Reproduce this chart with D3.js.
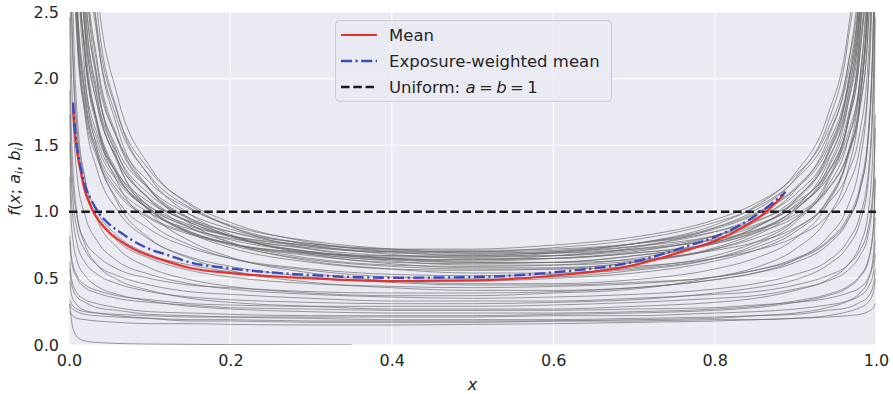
<!DOCTYPE html>
<html>
<head>
<meta charset="utf-8">
<script src="https://cdn.jsdelivr.net/npm/d3@7"></script>
<style>
  html, body { margin: 0; padding: 0; background: #ffffff; }
  svg { display: block; font-family: "DejaVu Sans", sans-serif; }
</style>
</head>
<body>
<svg id="chart" width="893" height="394"></svg>
<script>
// x positions at which every fitted beta density f(x; a_i, b_i) is tabulated
const xGrid = [0.001, 0.003, 0.01, 0.02, 0.035, 0.06, 0.1, 0.15, 0.2, 0.3, 0.4, 0.5,
               0.6, 0.7, 0.8, 0.85, 0.9, 0.94, 0.965, 0.98, 0.99, 0.997, 0.999];

// one row per fitted density, values at xGrid
const densityCurves = [
  [6.12,3.95,2.45,1.86,1.50,1.23,1.02,0.89,0.82,0.75,0.72,0.72,0.75,0.81,0.94,1.06,1.27,1.61,2.09,2.75,3.87,7.06,12.2],
  [6.46,4.17,2.58,1.97,1.58,1.29,1.07,0.93,0.85,0.76,0.72,0.71,0.72,0.76,0.85,0.93,1.07,1.29,1.58,1.97,2.58,4.17,6.46],
  [11.1,6.40,3.52,2.50,1.91,1.47,1.17,0.98,0.87,0.76,0.71,0.70,0.71,0.76,0.87,0.98,1.17,1.47,1.91,2.50,3.52,6.40,11.1],
  [5.95,3.84,2.38,1.81,1.46,1.19,0.99,0.87,0.80,0.73,0.70,0.70,0.73,0.79,0.92,1.03,1.24,1.57,2.03,2.67,3.77,6.86,11.9],
  [6.28,4.05,2.51,1.91,1.54,1.25,1.04,0.90,0.82,0.74,0.70,0.69,0.70,0.74,0.82,0.90,1.04,1.25,1.54,1.91,2.51,4.05,6.28],
  [11.7,6.76,3.71,2.64,2.01,1.55,1.22,1.02,0.90,0.78,0.72,0.69,0.69,0.72,0.79,0.86,0.98,1.17,1.44,1.79,2.35,3.78,5.87],
  [10.8,6.22,3.42,2.43,1.85,1.43,1.13,0.95,0.85,0.74,0.69,0.68,0.69,0.74,0.85,0.95,1.13,1.43,1.85,2.43,3.42,6.22,10.8],
  [19.8,10.2,4.98,3.30,2.38,1.74,1.31,1.06,0.92,0.77,0.70,0.67,0.67,0.71,0.80,0.89,1.05,1.32,1.71,2.24,3.14,5.72,9.89],
  [5.70,3.67,2.28,1.73,1.40,1.14,0.95,0.83,0.76,0.69,0.67,0.67,0.70,0.76,0.88,0.99,1.18,1.50,1.95,2.56,3.60,6.57,11.4],
  [10.5,6.03,3.32,2.36,1.80,1.39,1.10,0.92,0.82,0.72,0.67,0.66,0.67,0.72,0.82,0.92,1.10,1.39,1.80,2.36,3.32,6.03,10.5],
  [9.74,5.63,3.10,2.20,1.68,1.30,1.04,0.88,0.79,0.70,0.66,0.66,0.69,0.76,0.90,1.04,1.29,1.72,2.34,3.25,4.90,10.0,19.5],
  [19.2,9.88,4.83,3.20,2.31,1.69,1.27,1.03,0.89,0.75,0.68,0.65,0.65,0.69,0.77,0.86,1.02,1.29,1.66,2.17,3.05,5.54,9.59],
  [5.82,3.76,2.33,1.77,1.43,1.16,0.96,0.84,0.76,0.69,0.65,0.64,0.65,0.69,0.76,0.84,0.96,1.16,1.43,1.77,2.33,3.76,5.82],
  [9.45,5.46,3.00,2.14,1.63,1.27,1.01,0.85,0.76,0.68,0.64,0.64,0.67,0.73,0.88,1.01,1.25,1.66,2.27,3.16,4.76,9.73,18.9],
  [17.3,8.95,4.37,2.90,2.09,1.54,1.16,0.94,0.82,0.70,0.65,0.63,0.65,0.70,0.82,0.94,1.16,1.54,2.09,2.90,4.37,8.95,17.3],
  [31.7,14.7,6.37,3.94,2.68,1.87,1.34,1.05,0.89,0.72,0.65,0.62,0.62,0.67,0.77,0.88,1.08,1.42,1.93,2.67,4.02,8.23,15.9],
  [10.5,6.08,3.34,2.37,1.80,1.39,1.09,0.92,0.81,0.70,0.64,0.62,0.62,0.64,0.71,0.77,0.88,1.06,1.29,1.60,2.11,3.40,5.27],
  [9.66,5.58,3.07,2.18,1.66,1.28,1.02,0.85,0.76,0.67,0.62,0.61,0.62,0.67,0.76,0.85,1.02,1.28,1.66,2.18,3.07,5.58,9.66],
  [17.7,9.12,4.46,2.96,2.13,1.56,1.17,0.95,0.82,0.69,0.63,0.60,0.60,0.63,0.72,0.80,0.94,1.19,1.53,2.00,2.81,5.12,8.86],
  [16.2,8.38,4.09,2.72,1.96,1.44,1.09,0.88,0.77,0.65,0.60,0.59,0.60,0.65,0.77,0.88,1.09,1.44,1.96,2.72,4.09,8.38,16.2],
  [29.7,13.7,5.96,3.69,2.51,1.75,1.26,0.98,0.83,0.68,0.61,0.58,0.58,0.62,0.72,0.82,1.01,1.33,1.80,2.50,3.76,7.70,14.8],
  [9.67,5.59,3.07,2.18,1.66,1.28,1.01,0.84,0.75,0.64,0.59,0.57,0.57,0.59,0.65,0.71,0.81,0.97,1.19,1.48,1.94,3.12,4.85],
  [15.4,7.95,3.89,2.58,1.86,1.37,1.03,0.84,0.73,0.62,0.57,0.56,0.57,0.62,0.73,0.84,1.03,1.37,1.86,2.58,3.89,7.95,15.4],
  [27.6,12.8,5.55,3.43,2.34,1.63,1.17,0.91,0.77,0.63,0.57,0.54,0.54,0.58,0.67,0.77,0.94,1.24,1.68,2.33,3.50,7.17,13.8],
  [8.24,4.75,2.62,1.86,1.42,1.09,0.87,0.73,0.65,0.57,0.53,0.52,0.53,0.57,0.65,0.73,0.87,1.09,1.42,1.86,2.62,4.75,8.24],
  [13.8,7.10,3.47,2.31,1.66,1.22,0.92,0.75,0.65,0.56,0.51,0.50,0.51,0.56,0.65,0.75,0.92,1.22,1.66,2.31,3.47,7.10,13.8],
  [4.08,2.63,1.63,1.24,1.00,0.82,0.68,0.60,0.55,0.50,0.48,0.48,0.50,0.54,0.63,0.71,0.85,1.08,1.40,1.83,2.58,4.70,8.14],
  [23.6,10.9,4.72,2.93,1.99,1.39,1.00,0.78,0.66,0.54,0.48,0.46,0.46,0.49,0.57,0.65,0.80,1.06,1.43,1.98,2.98,6.10,11.8],
  [7.63,4.41,2.42,1.72,1.31,1.01,0.79,0.66,0.59,0.51,0.47,0.45,0.45,0.47,0.51,0.56,0.64,0.77,0.94,1.16,1.53,2.47,3.83],
  [3.91,2.52,1.57,1.19,0.96,0.78,0.65,0.56,0.51,0.46,0.44,0.43,0.44,0.46,0.51,0.56,0.65,0.78,0.96,1.19,1.57,2.52,3.91],
  [12.1,6.23,3.05,2.02,1.46,1.07,0.80,0.65,0.56,0.47,0.43,0.41,0.41,0.43,0.49,0.54,0.64,0.81,1.04,1.37,1.92,3.50,6.05],
  [1.91,1.37,0.96,0.78,0.67,0.57,0.50,0.45,0.43,0.40,0.39,0.39,0.40,0.43,0.49,0.54,0.62,0.75,0.93,1.16,1.52,2.45,3.80],
  [5.46,3.16,1.74,1.24,0.94,0.73,0.58,0.49,0.44,0.39,0.37,0.37,0.39,0.42,0.51,0.58,0.72,0.96,1.31,1.82,2.75,5.62,10.9],
  [3.19,2.05,1.27,0.97,0.78,0.63,0.53,0.46,0.42,0.38,0.36,0.35,0.36,0.38,0.42,0.46,0.53,0.63,0.78,0.97,1.27,2.05,3.19],
  [1.73,1.24,0.87,0.71,0.60,0.52,0.45,0.40,0.38,0.35,0.33,0.33,0.33,0.35,0.38,0.40,0.45,0.52,0.60,0.71,0.87,1.24,1.73],
  [1.52,1.09,0.76,0.62,0.53,0.46,0.40,0.36,0.34,0.32,0.31,0.31,0.32,0.34,0.39,0.43,0.49,0.60,0.74,0.92,1.21,1.95,3.02],
  [0.82,0.66,0.52,0.45,0.41,0.37,0.34,0.31,0.30,0.29,0.29,0.29,0.30,0.32,0.35,0.37,0.42,0.48,0.56,0.67,0.82,1.17,1.63],
  [2.46,1.58,0.98,0.75,0.60,0.49,0.41,0.35,0.32,0.29,0.27,0.27,0.27,0.29,0.32,0.35,0.41,0.49,0.60,0.75,0.98,1.58,2.46],
  [0.78,0.63,0.50,0.43,0.39,0.35,0.32,0.30,0.28,0.27,0.26,0.26,0.26,0.27,0.28,0.30,0.32,0.35,0.39,0.43,0.50,0.63,0.78],
  [1.26,0.90,0.63,0.52,0.44,0.38,0.33,0.29,0.27,0.25,0.24,0.24,0.24,0.25,0.27,0.29,0.33,0.38,0.44,0.52,0.63,0.90,1.26],
  [0.62,0.50,0.39,0.34,0.31,0.28,0.25,0.24,0.23,0.22,0.22,0.22,0.23,0.24,0.26,0.28,0.32,0.37,0.43,0.51,0.62,0.89,1.24],
  [0.34,0.31,0.27,0.25,0.24,0.23,0.22,0.21,0.21,0.21,0.21,0.21,0.22,0.22,0.24,0.25,0.27,0.30,0.33,0.37,0.43,0.55,0.68],
  [0.57,0.46,0.36,0.32,0.28,0.26,0.23,0.22,0.21,0.20,0.19,0.19,0.19,0.20,0.21,0.22,0.23,0.26,0.28,0.32,0.36,0.46,0.57],
  [0.31,0.28,0.25,0.23,0.22,0.21,0.20,0.19,0.19,0.18,0.18,0.18,0.18,0.18,0.19,0.19,0.20,0.21,0.22,0.23,0.25,0.28,0.31],
  [0.48,0.38,0.30,0.26,0.24,0.22,0.20,0.18,0.18,0.17,0.17,0.17,0.18,0.19,0.20,0.22,0.24,0.28,0.33,0.39,0.48,0.69,0.96],
  [0.25,0.23,0.20,0.19,0.18,0.17,0.16,0.16,0.155,0.15,0.15,0.155,0.16,0.17,0.18,0.19,0.20,0.22,0.25,0.28,0.32,0.40,0.50]
];

// one fit with nearly all of its mass at x = 0
const nearZeroX = [0.0005, 0.002, 0.004, 0.007, 0.012, 0.02, 0.04, 0.07, 0.12, 0.2, 0.35];
const nearZeroY = [0.31, 0.24, 0.15, 0.09, 0.05, 0.03, 0.017, 0.01, 0.006, 0.003, 0.001];

// plain mean of the densities
const meanX = [0.005, 0.0075, 0.01, 0.0136, 0.02, 0.025, 0.03, 0.04, 0.05, 0.065, 0.08, 0.1, 0.12,
               0.15, 0.2, 0.3, 0.4, 0.5, 0.6, 0.7, 0.77, 0.8, 0.84, 0.86, 0.886];
const meanY = [1.79, 1.58, 1.45, 1.33, 1.15, 1.07, 1.0, 0.91, 0.845, 0.775, 0.72, 0.67, 0.63,
               0.578, 0.54, 0.5, 0.48, 0.485, 0.52, 0.6, 0.72, 0.78, 0.9, 0.98, 1.13];

// exposure-weighted mean of the densities
const weightedX = [0.005, 0.0075, 0.01, 0.0136, 0.02, 0.025, 0.03, 0.036, 0.05, 0.065, 0.08, 0.1, 0.12,
                   0.15, 0.2, 0.3, 0.4, 0.5, 0.6, 0.7, 0.77, 0.8, 0.84, 0.86, 0.888];
const weightedY = [1.82, 1.61, 1.48, 1.36, 1.19, 1.12, 1.06, 1.0, 0.905, 0.84, 0.78, 0.72, 0.68,
                   0.62, 0.575, 0.525, 0.505, 0.51, 0.545, 0.625, 0.75, 0.81, 0.93, 1.01, 1.15];

// uniform reference density a = b = 1
const uniformLevel = 1.0;

const xTicks = [0, 0.2, 0.4, 0.6, 0.8, 1.0];
const yTicks = [0, 0.5, 1.0, 1.5, 2.0, 2.5];

// ---- layout ----
const plot = { left: 69, right: 876, top: 12, bottom: 345 };
const ink = "#262626";
const fontSize = 16;
const legendFont = 16.5;

const svg = d3.select("#chart");

const x = d3.scaleLinear().domain([0, 1]).range([plot.left, plot.right]);
const y = d3.scaleLinear().domain([0, 2.5]).range([plot.bottom, plot.top]);

// axes background
svg.append("rect")
  .attr("x", plot.left).attr("y", plot.top)
  .attr("width", plot.right - plot.left).attr("height", plot.bottom - plot.top)
  .attr("fill", "#eaeaf2");

svg.append("defs").append("clipPath").attr("id", "plot-clip")
  .append("rect")
  .attr("x", plot.left).attr("y", plot.top)
  .attr("width", plot.right - plot.left).attr("height", plot.bottom - plot.top);

// white grid
const grid = svg.append("g").attr("stroke", "#ffffff").attr("stroke-width", 1.1);
grid.selectAll("line.gx").data(xTicks).join("line")
  .attr("x1", d => x(d)).attr("x2", d => x(d))
  .attr("y1", plot.top).attr("y2", plot.bottom);
grid.selectAll("line.gy").data(yTicks).join("line")
  .attr("x1", plot.left).attr("x2", plot.right)
  .attr("y1", d => y(d)).attr("y2", d => y(d));

// tick labels through d3 axes, with the axis lines removed
const xAxis = svg.append("g")
  .attr("transform", `translate(0,${plot.bottom})`)
  .call(d3.axisBottom(x).tickValues(xTicks).tickFormat(d3.format(".1f")).tickSize(0).tickPadding(10));
const yAxis = svg.append("g")
  .attr("transform", `translate(${plot.left},0)`)
  .call(d3.axisLeft(y).tickValues(yTicks).tickFormat(d3.format(".1f")).tickSize(0).tickPadding(10));
[xAxis, yAxis].forEach(g => {
  g.select(".domain").remove();
  g.selectAll("text")
    .attr("fill", ink)
    .attr("font-size", fontSize)
    .attr("font-family", "DejaVu Sans, sans-serif");
});

const layer = svg.append("g").attr("clip-path", "url(#plot-clip)");

const line = d3.line()
  .x(d => x(d[0]))
  .y(d => y(d[1]))
  .curve(d3.curveMonotoneX);

// individual densities
const gray = layer.append("g")
  .attr("fill", "none")
  .attr("stroke", "#6a6a6a")
  .attr("stroke-opacity", 0.66)
  .attr("stroke-width", 1);

gray.selectAll("path")
  .data(densityCurves)
  .join("path")
  .attr("d", vals => line(xGrid.map((xv, i) => [xv, vals[i]])));

gray.append("path")
  .attr("d", line(nearZeroX.map((xv, i) => [xv, nearZeroY[i]])));

// uniform density
layer.append("line")
  .attr("x1", x(0)).attr("x2", x(1))
  .attr("y1", y(uniformLevel)).attr("y2", y(uniformLevel))
  .attr("stroke", "#1a1a1a")
  .attr("stroke-width", 2.4)
  .attr("stroke-dasharray", "8.5,3.8");

// mean densities
const red = "#e8302c", blue = "#3b4cc0";
layer.append("path")
  .attr("fill", "none")
  .attr("stroke", red)
  .attr("stroke-width", 2.2)
  .attr("d", line(meanX.map((xv, i) => [xv, meanY[i]])));

layer.append("path")
  .attr("fill", "none")
  .attr("stroke", blue)
  .attr("stroke-width", 2.4)
  .attr("stroke-dasharray", "11,3.5,2.2,3.5")
  .attr("d", line(weightedX.map((xv, i) => [xv, weightedY[i]])));

// axis titles
const yTitle = svg.append("text")
  .attr("transform", `translate(20,${(plot.top + plot.bottom) / 2}) rotate(-90)`)
  .attr("text-anchor", "middle")
  .attr("font-size", fontSize)
  .attr("fill", ink);
yTitle.append("tspan").attr("font-style", "italic").text("f");
yTitle.append("tspan").text("(");
yTitle.append("tspan").attr("font-style", "italic").text("x");
yTitle.append("tspan").text("; ");
yTitle.append("tspan").attr("font-style", "italic").text("a");
yTitle.append("tspan").attr("font-style", "italic").attr("font-size", 11).attr("dy", 3).text("i");
yTitle.append("tspan").attr("dy", -3).text(", ");
yTitle.append("tspan").attr("font-style", "italic").text("b");
yTitle.append("tspan").attr("font-style", "italic").attr("font-size", 11).attr("dy", 3).text("i");
yTitle.append("tspan").attr("dy", -3).text(")");

svg.append("text")
  .attr("x", (plot.left + plot.right) / 2)
  .attr("y", 390)
  .attr("text-anchor", "middle")
  .attr("font-size", fontSize)
  .attr("font-style", "italic")
  .attr("fill", ink)
  .text("x");

// legend
const legend = svg.append("g");
legend.append("rect")
  .attr("x", 335.5).attr("y", 20.5)
  .attr("width", 276).attr("height", 81)
  .attr("rx", 4).attr("ry", 4)
  .attr("fill", "#eaeaf2").attr("fill-opacity", 0.8)
  .attr("stroke", "#cccccc").attr("stroke-width", 1);

const legendRows = [
  { y: 35, color: red, width: 2.2, dash: null },
  { y: 61, color: blue, width: 2.4, dash: "11,3.5,2.2,3.5" },
  { y: 87, color: "#1a1a1a", width: 2.4, dash: "8.5,3.8" }
];
legendRows.forEach(r => {
  const l = legend.append("line")
    .attr("x1", 341).attr("x2", 377)
    .attr("y1", r.y).attr("y2", r.y)
    .attr("stroke", r.color).attr("stroke-width", r.width);
  if (r.dash) l.attr("stroke-dasharray", r.dash);
});

const legendText = (yy) => legend.append("text")
  .attr("x", 389).attr("y", yy + 6)
  .attr("font-size", legendFont)
  .attr("fill", ink);

legendText(35).text("Mean");
legendText(61).text("Exposure-weighted mean");
const uni = legendText(87);
uni.append("tspan").text("Uniform:\u00a0");
uni.append("tspan").attr("font-style", "italic").text("a");
uni.append("tspan").attr("dx", 3.4).text("=");
uni.append("tspan").attr("dx", 3.4).attr("font-style", "italic").text("b");
uni.append("tspan").attr("dx", 3.4).text("=");
uni.append("tspan").attr("dx", 3.4).text("1");
</script>
</body>
</html>
